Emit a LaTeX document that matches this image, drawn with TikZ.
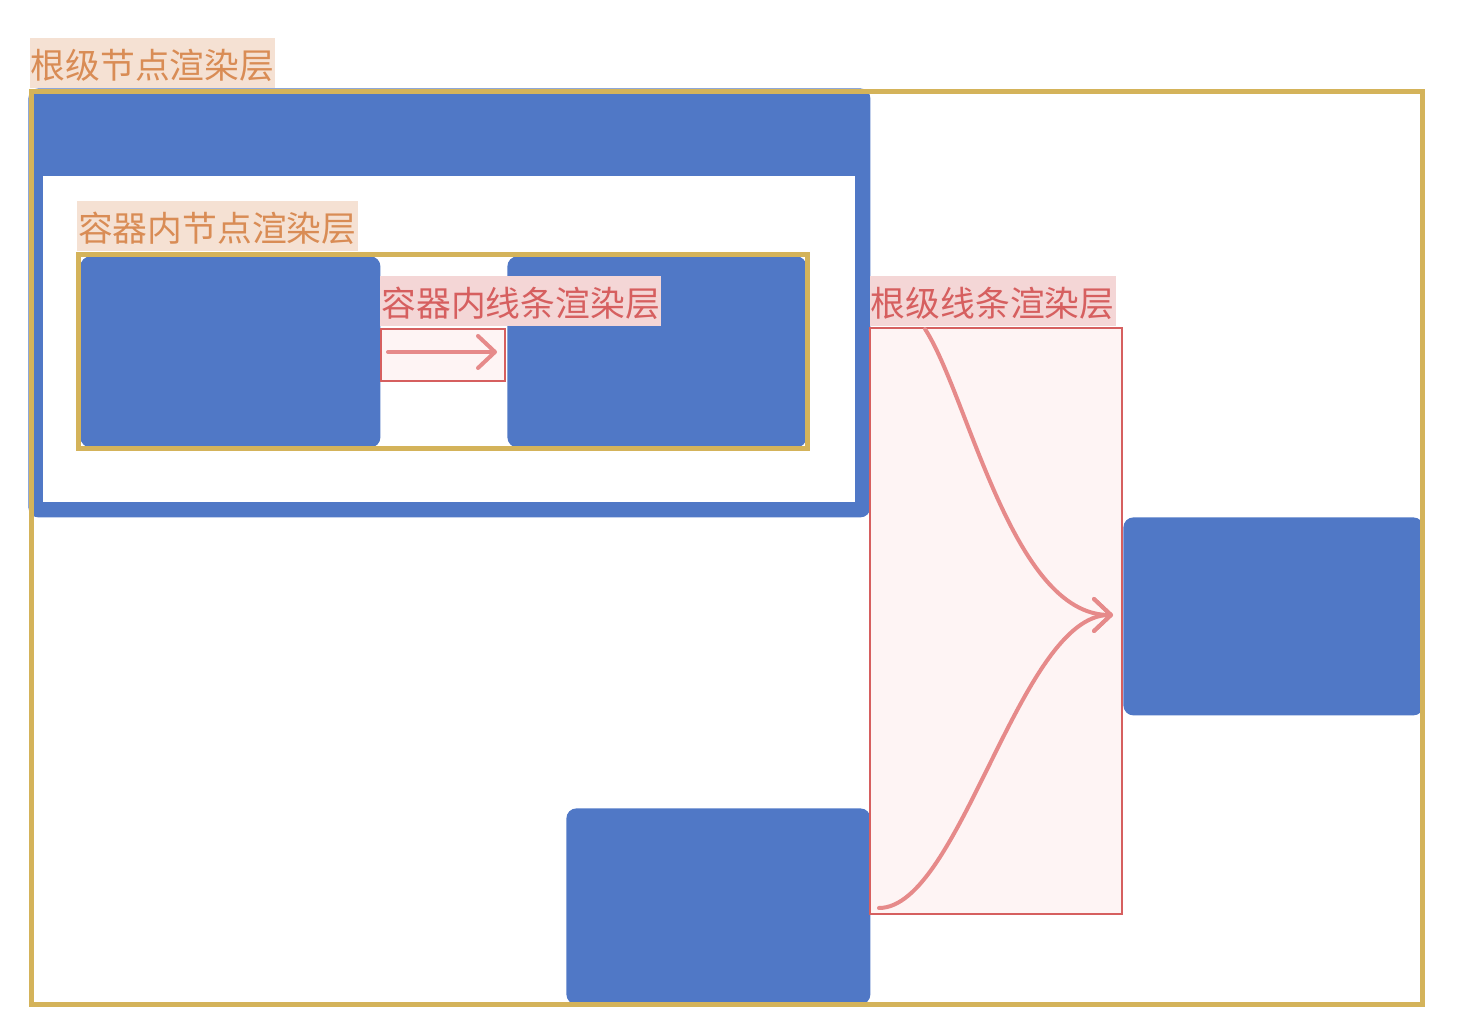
\documentclass[tikz,border=0pt]{standalone}
\usepackage{fontspec}
\newfontfamily\cjk{Noto Sans CJK SC}
\usetikzlibrary{arrows.meta,positioning}
\definecolor{nodeblue}{HTML}{5078C6}
\definecolor{layergold}{HTML}{D4B35A}
\definecolor{peachbg}{HTML}{F5E1D3}
\definecolor{peachtext}{HTML}{D98C55}
\definecolor{pinkbg}{HTML}{F4D6D6}
\definecolor{redtext}{HTML}{D65F5F}
\definecolor{boxfill}{HTML}{FEF4F4}
\definecolor{flowpink}{HTML}{E68A8A}
\tikzset{
  blk/.style = {fill=nodeblue, rounded corners=5pt, inner sep=0, anchor=north west},
  hole/.style = {fill=white, inner sep=0, anchor=north west},
  frame/.style = {draw=layergold, line width=2.5pt, inner sep=0, outer sep=0, anchor=north west},
  nlabel/.style = {fill=peachbg, text=peachtext, font=\fontsize{17.4pt}{17.4pt}\cjk,
    inner xsep=0.5pt, inner ysep=0, text height=16.5pt, text depth=1pt,
    minimum height=25pt, anchor=south west},
  llabel/.style = {nlabel, fill=pinkbg, text=redtext},
  lbox/.style = {draw=redtext, fill=boxfill, line width=1pt, inner sep=0, outer sep=0, anchor=north west},
  flow/.style = {draw=flowpink, line width=2pt, line cap=round,
    -{Straight Barb[length=8.5pt,width=16pt,round]}}
}
\begin{document}
\begin{tikzpicture}[x=0.5pt, y=-0.5pt]
  \useasboundingbox (0,0) rectangle (1458,1036);
  % container in root
  \node[blk, minimum width=421pt, minimum height=214.5pt] (box) at (28,88) {};
  \node[hole, minimum width=406pt, minimum height=163pt] (boxin) at (43,176) {};
  % nodes in container
  \node[blk, minimum width=150pt, minimum height=95.5pt] (c1) at (80,256) {};
  \node[blk, minimum width=149.5pt, minimum height=95.5pt] (c2) at (507,256) {};
  \node[frame, minimum width=364.4pt, minimum height=97.1pt] (inner) at (78.7,254.8) {};
  \node[nlabel] (innerlbl) at (76.7,251.7) {容器内节点渲染层};
  \node[lbox, minimum width=62pt, minimum height=26pt] (ilines) at (381,328.7) {};
  \node[llabel] (ilineslbl) at (380,326.7) {容器内线条渲染层};
  \coordinate (ia) at (388,352);
  \coordinate (ib) at (497,352);
  \draw[flow] (ia) -- (ib);
  % nodes in root
  \node[blk, minimum width=152pt, minimum height=98pt] (r1) at (566,808) {};
  \node[blk, minimum width=150pt, minimum height=99pt] (r2) at (1123,517) {};
  \node[lbox, minimum width=126pt, minimum height=293pt] (rlines) at (870,328) {};
  \node[llabel] (rlineslbl) at (869.5,326.5) {根级线条渲染层};
  \coordinate (ta) at (925,329);
  \coordinate (ba) at (879,908);
  \coordinate (tip) at (1113,615);
  \draw[flow] (ta) .. controls (968,395) and (1012,615) .. (tip);
  \draw[flow] (ba) .. controls (960,908) and (1020,615) .. (tip);
  \node[frame, minimum width=695.5pt, minimum height=456.75pt] (root) at (31.5,91.5) {};
  \node[nlabel] (rootlbl) at (29.3,88.7) {根级节点渲染层};
\end{tikzpicture}
\end{document}
